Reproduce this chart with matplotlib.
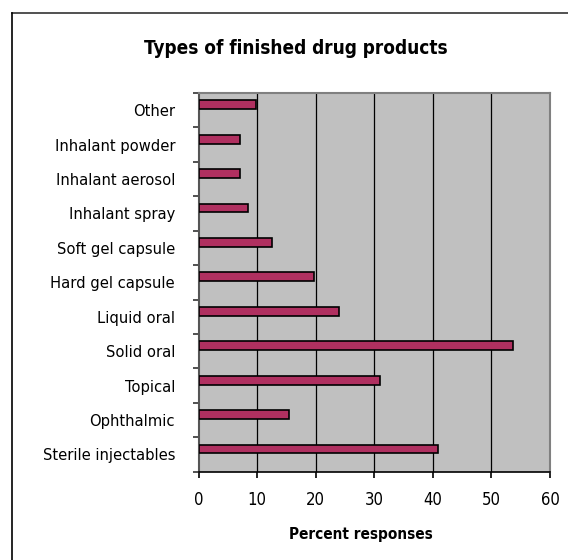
import matplotlib
matplotlib.use("Agg")
import matplotlib.pyplot as plt
from matplotlib.lines import Line2D

categories = ["Sterile injectables", "Ophthalmic", "Topical", "Solid oral", "Liquid oral",
              "Hard gel capsule", "Soft gel capsule", "Inhalant spray", "Inhalant aerosol",
              "Inhalant powder", "Other"]
values = [40.8, 15.4, 31.0, 53.6, 23.9, 19.7, 12.6, 8.5, 7.0, 7.0, 9.8]
xticks = [0, 10, 20, 30, 40, 50, 60]
title = "Types of finished drug products"
xlabel = "Percent responses"

plt.rcParams["font.family"] = ["DejaVu Sans"]
plt.rcParams["font.stretch"] = "condensed"

fig = plt.figure(figsize=(5.68, 5.60), dpi=100)
W, H = 568, 560
ax = fig.add_axes([198.7 / W, (H - 471.7) / H, (550 - 198.7) / W, (471.7 - 93) / H])
ax.set_facecolor("#C0C0C0")

ypos = list(range(len(categories)))
ax.barh([y + 0.16 for y in ypos], values, height=0.26, color="#B03060",
        edgecolor="black", linewidth=1.2, zorder=3)

ax.set_xlim(0, 60)
ax.set_ylim(-0.5, len(categories) - 0.5)
for x in xticks[1:-1]:
    ax.axvline(x, color="black", linewidth=0.9, zorder=1)

ax.set_xticks(xticks)
ax.set_xticklabels([str(v) for v in xticks], fontsize=12)
ax.set_yticks(ypos)
ax.set_yticklabels(categories, fontsize=11.8)
ax.set_yticks([y - 0.5 for y in range(len(categories) + 1)], minor=True)
ax.tick_params(axis="y", which="major", length=0, pad=17)
ax.tick_params(axis="y", which="minor", length=4.5, width=1.2, color="#333333", direction="out")
ax.tick_params(axis="x", which="major", length=4, width=1.2, color="black", direction="out", pad=10)

for s in ["top", "right"]:
    ax.spines[s].set_color("#808080")
    ax.spines[s].set_linewidth(1.5)
ax.spines["left"].set_color("#555555")
ax.spines["left"].set_linewidth(1.5)
ax.spines["bottom"].set_color("black")
ax.spines["bottom"].set_linewidth(1.2)

fig.text(295.5 / W, 1 - 49 / H, title, ha="center", va="center", fontsize=13.6, fontweight="bold")
fig.text(360.5 / W, 1 - 535 / H, xlabel, ha="center", va="center", fontsize=11, fontweight="bold")

# Figure frame (top and left edges visible)
fig.add_artist(Line2D([11.5 / W, 1.0], [1 - 13 / H, 1 - 13 / H], color="#333333", linewidth=1.2,
                      transform=fig.transFigure))
fig.add_artist(Line2D([11.5 / W, 11.5 / W], [0, 1 - 13 / H], color="black", linewidth=1.2,
                      transform=fig.transFigure))

fig.savefig("out.png", dpi=100)
